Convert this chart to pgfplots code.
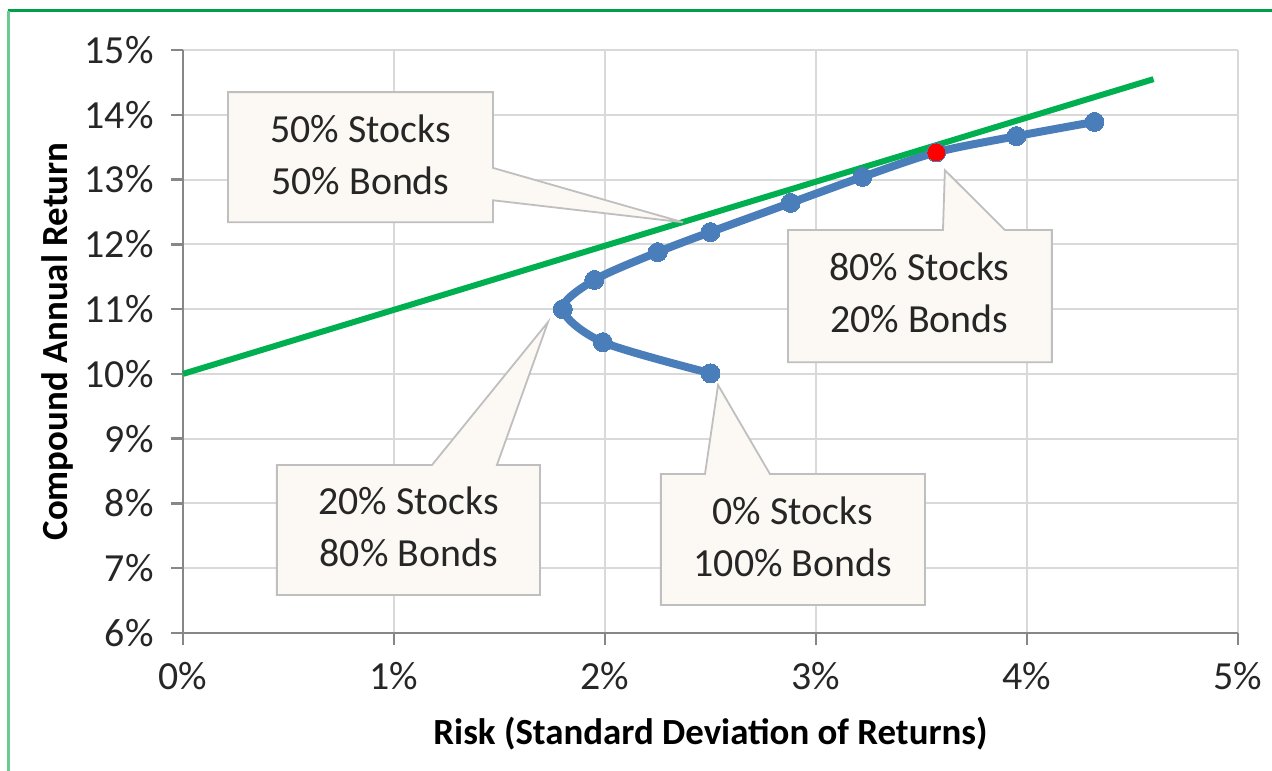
\documentclass[border=0pt]{standalone}
\usepackage{pgfplots}
\pgfplotsset{compat=1.18}
\usepackage{fontspec}
\setmainfont{Carlito}
\definecolor{blueline}{HTML}{4A7EBB}
\definecolor{greenline}{HTML}{00B050}
\definecolor{redpt}{HTML}{FF0000}
\definecolor{callfill}{HTML}{FCF8F4}
\definecolor{callborder}{HTML}{BFBFBF}
\definecolor{gridc}{HTML}{D9D9D9}
\definecolor{axisc}{HTML}{878787}
\definecolor{frametop}{HTML}{00A04A}
\definecolor{frameleft}{HTML}{6CCB8C}
\begin{document}
\begin{tikzpicture}
\useasboundingbox (0,0) rectangle (1272bp,771bp);
\draw[frametop, line width=3bp] (8bp,760bp) -- (1272bp,760bp);
\draw[frameleft, line width=3bp] (8bp,0) -- (8bp,760bp);
\begin{axis}[
  at={(183bp,138bp)}, anchor=south west,
  width=1055bp, height=583bp, scale only axis,
  xmin=0, xmax=5, ymin=6, ymax=15,
  xtick={0,1,2,3,4,5},
  xticklabels={0\%,1\%,2\%,3\%,4\%,5\%},
  ytick={6,7,8,9,10,11,12,13,14,15},
  yticklabels={6\%,7\%,8\%,9\%,10\%,11\%,12\%,13\%,14\%,15\%},
  axis x line*=bottom, axis y line*=left,
  axis line style={axisc, line width=2.5bp},
  tick style={axisc, line width=2.5bp},
  tick align=outside, major tick length=12bp,
  grid=major,
  major grid style={gridc, line width=2bp},
  ticklabel style={font=\fontsize{40}{46}\selectfont, text=black!85},
  xticklabel style={yshift=-14bp},
  yticklabel style={xshift=-14bp},
  xlabel={\textbf{Risk (Standard Deviation of Returns)}},
  ylabel={\textbf{Compound Annual Return}},
  label style={font=\fontsize{37}{42}\selectfont},
  xlabel style={yshift=-20bp},
  ylabel style={yshift=4bp},
  clip=false,
]
\addplot[blueline, line width=8bp, smooth, tension=0.5, mark=*, mark size=9.5bp, mark options={fill=blueline, draw=blueline, line width=0pt}]
coordinates {(2.50,10.01) (1.99,10.49) (1.80,11.00) (1.95,11.45) (2.25,11.88) (2.50,12.19) (2.88,12.64) (3.22,13.04) (3.57,13.42) (3.95,13.67) (4.32,13.89)};
\addplot[only marks, mark=*, mark size=8.5bp, mark options={fill=redpt, draw=redpt, line width=0pt}]
coordinates {(3.57,13.42)};
\addplot[greenline, line width=6bp] coordinates {(0,10) (4.6,14.55)};
% callouts
\begin{scope}[callborder, fill=callfill, line width=1.8bp]
\filldraw (axis cs:0.213,14.35) -- (axis cs:1.469,14.35) -- (axis cs:1.469,13.18) -- (axis cs:2.37,12.34) -- (axis cs:1.469,12.68) -- (axis cs:1.469,12.34) -- (axis cs:0.213,12.34) -- cycle;
\filldraw (axis cs:2.867,12.22) -- (axis cs:3.602,12.22) -- (axis cs:3.611,13.145) -- (axis cs:3.896,12.22) -- (axis cs:4.118,12.22) -- (axis cs:4.118,10.18) -- (axis cs:2.867,10.18) -- cycle;
\filldraw (axis cs:0.445,8.593) -- (axis cs:1.180,8.593) -- (axis cs:1.730,10.80) -- (axis cs:1.488,8.593) -- (axis cs:1.692,8.593) -- (axis cs:1.692,6.586) -- (axis cs:0.445,6.586) -- cycle;
\filldraw (axis cs:2.265,8.454) -- (axis cs:2.474,8.454) -- (axis cs:2.536,9.827) -- (axis cs:2.782,8.454) -- (axis cs:3.517,8.454) -- (axis cs:3.517,6.432) -- (axis cs:2.265,6.432) -- cycle;
\end{scope}
\begin{scope}[every node/.style={align=center, text=black!85, font=\fontsize{40}{52}\selectfont}]
\node at (axis cs:0.841,13.38) {50\% Stocks\\50\% Bonds};
\node at (axis cs:3.49,11.25) {80\% Stocks\\20\% Bonds};
\node at (axis cs:1.07,7.64) {20\% Stocks\\80\% Bonds};
\node at (axis cs:2.89,7.48) {0\% Stocks\\100\% Bonds};
\end{scope}
\end{axis}
\end{tikzpicture}
\end{document}
